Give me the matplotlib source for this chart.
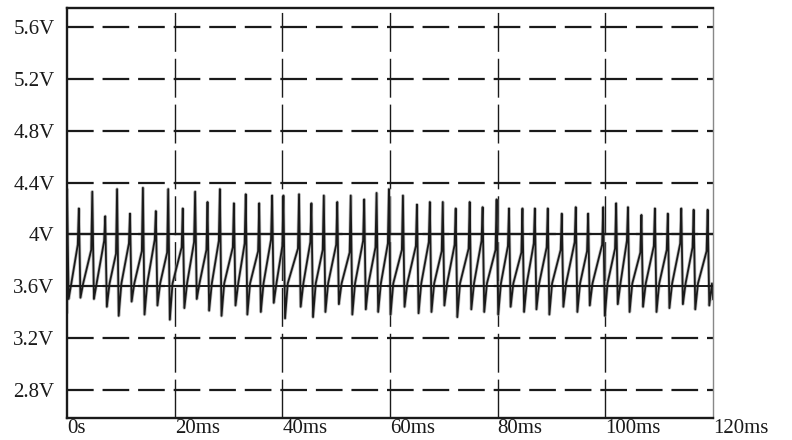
import numpy as np
import matplotlib.pyplot as plt

# peak instants of the ripple (ms) and the values (V)
peak_ms = [0, 2.2, 4.7, 7.1, 9.3, 11.7, 14.1, 16.5, 18.8, 21.5,
           23.8, 26.1, 28.4, 31.0, 33.2, 35.7, 38.1, 40.2, 43.1, 45.4,
           47.7, 50.2, 52.7, 55.2, 57.5, 59.8, 62.4, 65.0, 67.4, 69.8,
           72.2, 74.8, 77.2, 79.8, 82.1, 84.6, 86.9, 89.3, 91.9, 94.5,
           96.8, 99.6, 102.0, 104.2, 106.7, 109.2, 111.6, 114.1, 116.4, 119.0]
peak_v = [4.35, 4.20, 4.33, 4.14, 4.35, 4.16, 4.36, 4.18, 4.35, 4.20,
          4.33, 4.25, 4.35, 4.24, 4.31, 4.24, 4.30, 4.30, 4.31, 4.24,
          4.30, 4.25, 4.30, 4.27, 4.32, 4.35, 4.30, 4.23, 4.25, 4.25,
          4.20, 4.25, 4.21, 4.27, 4.20, 4.20, 4.20, 4.20, 4.16, 4.21,
          4.16, 4.21, 4.24, 4.21, 4.15, 4.20, 4.16, 4.20, 4.19, 4.19]
trough_v = [3.50, 3.51, 3.50, 3.44, 3.37, 3.48, 3.38, 3.45, 3.34, 3.43,
            3.50, 3.41, 3.37, 3.45, 3.38, 3.40, 3.47, 3.35, 3.44, 3.36,
            3.40, 3.46, 3.38, 3.42, 3.40, 3.38, 3.44, 3.39, 3.40, 3.45,
            3.36, 3.42, 3.40, 3.38, 3.44, 3.40, 3.42, 3.38, 3.44, 3.40,
            3.45, 3.37, 3.46, 3.40, 3.44, 3.40, 3.43, 3.46, 3.42, 3.45]
knee_v = [3.92, 3.88, 3.95, 3.85, 3.93, 3.87, 3.96, 3.86, 3.90, 3.94,
          3.88, 3.95, 3.90, 3.93, 3.87, 3.96, 3.91, 3.89, 3.94, 3.88,
          3.92, 3.86, 3.95, 3.90, 3.93, 3.88, 3.91, 3.94, 3.87, 3.92,
          3.89, 3.95, 3.88, 3.91, 3.86, 3.93, 3.90, 3.88, 3.94, 3.87,
          3.92, 3.89, 3.95, 3.86, 3.91, 3.88, 3.93, 3.90, 3.87, 3.92]
shoulder_v = 3.62
start_v = 3.40
end_v = 3.50

y_ticks = [2.8, 3.2, 3.6, 4.0, 4.4, 4.8, 5.2, 5.6]
y_labels = ["2.8V", "3.2V", "3.6V", "4V", "4.4V", "4.8V", "5.2V", "5.6V"]
x_ticks = [0, 20, 40, 60, 80, 100, 120]
x_labels = ["0s", "20ms", "40ms", "60ms", "80ms", "100ms", "120ms"]

# build the ripple: peak -> fast drop -> shoulder -> slow ramp -> next peak
t = [0.0]
v = [start_v]
for i in range(len(peak_ms)):
    tp = peak_ms[i]
    t.append(tp)
    v.append(peak_v[i])
    t_next = peak_ms[i + 1] if i + 1 < len(peak_ms) else 120.0
    t += [tp + 0.3, tp + 0.8]
    v += [trough_v[i], shoulder_v]
    if i + 1 < len(peak_ms):
        t.append(t_next - 0.2)
        v.append(knee_v[i])
t.append(120.0)
v.append(end_v)

ink = "#1a1a1a"
plt.rcParams["font.family"] = ["Liberation Serif", "DejaVu Serif"]

fig = plt.figure(figsize=(7.92, 4.4), dpi=100)
ax = fig.add_axes([0.0846, 0.05, 0.8157, 0.9318])

for yv in y_ticks:
    ax.axhline(yv, color=ink, lw=1.6, ls=(0, (12, 4)), zorder=1)
for xv in x_ticks[1:-1]:
    ax.axvline(xv, color=ink, lw=1.0, ls=(0, (28, 5)), zorder=1)
ax.axhline(4.0, color=ink, lw=1.6, zorder=3)
ax.axhline(3.6, color=ink, lw=1.4, zorder=3)

# the grey ramps first, the dark spikes on top
ax.plot(t, v, color="#9a9a9a", lw=2.4, alpha=0.6, zorder=2)
ax.plot(t, v, color=ink, lw=1.3, zorder=2)

ax.set_xlim(0, 120)
ax.set_ylim(2.58, 5.75)
ax.set_yticks(y_ticks)
ax.set_yticklabels(y_labels)
ax.set_xticks(x_ticks)
ax.set_xticklabels(x_labels, ha="left")
ax.tick_params(axis="both", length=0, labelsize=15, colors=ink)
ax.tick_params(axis="y", pad=9)
ax.tick_params(axis="x", pad=1)
for name, sp in ax.spines.items():
    sp.set_color(ink)
    sp.set_linewidth(1.7)
ax.spines["right"].set_linewidth(1.0)
ax.spines["right"].set_color("#888888")

fig.savefig("out.png", dpi=100)
